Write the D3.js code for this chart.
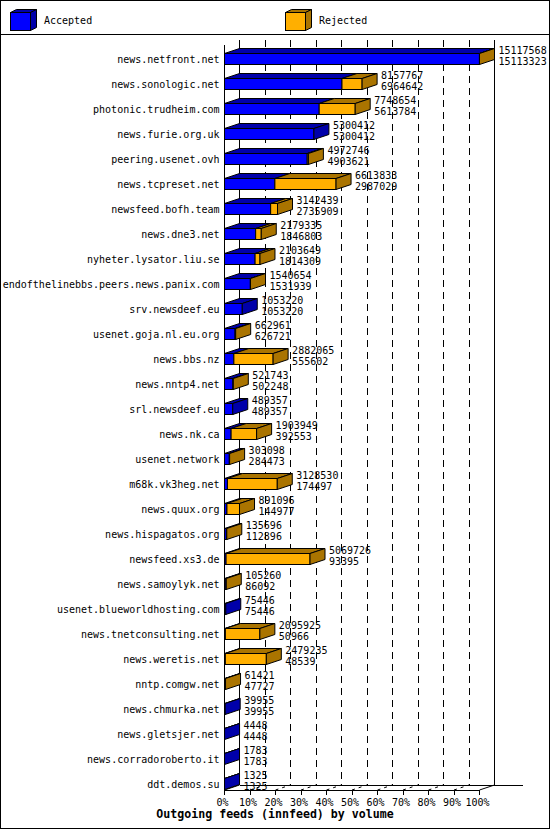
<!DOCTYPE html>
<html lang="en">
<head>
  <meta charset="UTF-8">
  <title>Outgoing feeds (innfeed) by volume</title>
  <script src="https://cdnjs.cloudflare.com/ajax/libs/d3/7.8.5/d3.min.js"></script>
  <style>
    body { margin: 0; background: #fff; }
    svg text { font-family: "DejaVu Sans Mono", monospace; font-size: 10px; fill: #000; }
    svg .title { font-weight: bold; font-size: 11.6px; }
    .crisp { shape-rendering: crispEdges; }
  </style>
</head>
<body>
<div id="chart"></div>
<script>
// feed names, top to bottom
var feeds = [
  "news.netfront.net", "news.sonologic.net", "photonic.trudheim.com", "news.furie.org.uk",
  "peering.usenet.ovh", "news.tcpreset.net", "newsfeed.bofh.team", "news.dne3.net",
  "nyheter.lysator.liu.se", "endofthelinebbs.peers.news.panix.com", "srv.newsdeef.eu",
  "usenet.goja.nl.eu.org", "news.bbs.nz", "news.nntp4.net", "srl.newsdeef.eu", "news.nk.ca",
  "usenet.network", "m68k.vk3heg.net", "news.quux.org", "news.hispagatos.org",
  "newsfeed.xs3.de", "news.samoylyk.net", "usenet.blueworldhosting.com",
  "news.tnetconsulting.net", "news.weretis.net", "nntp.comgw.net", "news.chmurka.net",
  "news.gletsjer.net", "news.corradoroberto.it", "ddt.demos.su"
];

// offered (top number) and accepted (bottom number) per feed
var offered = [
  15117568, 8157767, 7748654, 5300412, 4972746, 6613833, 3142439, 2179335,
  2103649, 1540654, 1053220, 662961, 2882065, 521743, 489357, 1903949,
  303098, 3128530, 891096, 135696, 5069726, 105260, 75446, 2095925,
  2479235, 61421, 39955, 4448, 1783, 1325
];
var accepted = [
  15113323, 6964642, 5613784, 5300412, 4903621, 2987029, 2735909, 1846803,
  1814309, 1531939, 1053220, 626721, 555602, 502248, 489357, 392553,
  284473, 174497, 144977, 112896, 93395, 86092, 75446, 50966,
  48539, 47727, 39955, 4448, 1783, 1325
];

var seriesNames = ["Accepted", "Rejected"];
var seriesColors = ["#0000ff", "#ffaf00"];
var seriesDark = ["#0000aa", "#aa7400"];

var tickValues = [0, 10, 20, 30, 40, 50, 60, 70, 80, 90, 100];
var tickLabels = ["0%", "10%", "20%", "30%", "40%", "50%", "60%", "70%", "80%", "90%", "100%"];
var chartTitle = "Outgoing feeds (innfeed) by volume";

var svgWidth = 550;
var svgHeight = 830;

// 3D offset of the back wall
var depth = { x: 15, y: 5 };
var frontBottom = 790;
var backTop = 40;
var barHeight = 11;

var svg = d3.select("#chart")
  .append("svg")
  .attr("width", svgWidth)
  .attr("height", svgHeight);

var maxValue = d3.max(offered);

var xScale = d3.scaleLinear()
  .domain([0, 100])
  .range([224.5, 479.5]);

var yScale = d3.scaleBand()
  .domain(feeds)
  .range([46.3, 796.3]);

function pct(v) { return v / maxValue * 100; }

function poly(pts) {
  return pts.map(function(p) { return p[0] + "," + p[1]; }).join(" ");
}

// outer frame and legend separator
svg.append("rect")
  .attr("class", "crisp")
  .attr("x", 0.5).attr("y", 0.5)
  .attr("width", svgWidth - 1).attr("height", svgHeight - 2)
  .attr("fill", "#fff").attr("stroke", "#000");

svg.append("line")
  .attr("class", "crisp")
  .attr("x1", 0).attr("x2", svgWidth)
  .attr("y1", 34.5).attr("y2", 34.5)
  .attr("stroke", "#000");

// legend
var legend = svg.selectAll(".legend")
  .data(seriesNames)
  .enter()
  .append("g")
  .attr("class", "legend")
  .attr("transform", (d, i) => `translate(${10.5 + i * 275}, 12.5)`);

legend.append("polygon")
  .attr("points", poly([[0, 0], [20, 0], [26, -3], [6, -3]]))
  .attr("fill", (d, i) => seriesDark[i]).attr("stroke", "#000");
legend.append("polygon")
  .attr("points", poly([[20, 0], [26, -3], [26, 15], [20, 18]]))
  .attr("fill", (d, i) => seriesDark[i]).attr("stroke", "#000");
legend.append("rect")
  .attr("width", 20).attr("height", 18)
  .attr("fill", (d, i) => seriesColors[i]).attr("stroke", "#000");
legend.append("text")
  .attr("x", 33.5 + 0)
  .attr("y", 11.5)
  .text(d => d);

// back wall: dashed grid lines
var gridTicks = tickValues.slice(1, -1);

svg.selectAll(".grid")
  .data(gridTicks)
  .enter()
  .append("line")
  .attr("class", "grid crisp")
  .attr("x1", d => xScale(d) + depth.x).attr("x2", d => xScale(d) + depth.x)
  .attr("y1", backTop).attr("y2", frontBottom - depth.y)
  .attr("stroke", "#000")
  .attr("stroke-dasharray", "7,5");

// floor: dashed lines
svg.selectAll(".floor")
  .data(gridTicks)
  .enter()
  .append("line")
  .attr("class", "floor")
  .attr("x1", d => xScale(d)).attr("y1", frontBottom)
  .attr("x2", d => xScale(d) + depth.x).attr("y2", frontBottom - depth.y)
  .attr("stroke", "#000")
  .attr("stroke-dasharray", "3,4");

// back wall edges
var backG = svg.append("g").attr("class", "crisp").attr("stroke", "#000");
backG.append("line")
  .attr("x1", xScale(0) + depth.x).attr("x2", xScale(0) + depth.x)
  .attr("y1", backTop).attr("y2", frontBottom - depth.y);
backG.append("line")
  .attr("x1", xScale(100) + depth.x).attr("x2", xScale(100) + depth.x)
  .attr("y1", backTop).attr("y2", frontBottom - depth.y);
backG.append("line")
  .attr("x1", xScale(0) + depth.x).attr("x2", 523)
  .attr("y1", frontBottom - depth.y).attr("y2", frontBottom - depth.y);

svg.append("line")
  .attr("x1", xScale(0)).attr("y1", frontBottom)
  .attr("x2", xScale(0) + depth.x).attr("y2", frontBottom - depth.y)
  .attr("stroke", "#000");
svg.append("line")
  .attr("x1", xScale(100)).attr("y1", frontBottom)
  .attr("x2", xScale(100) + depth.x).attr("y2", frontBottom - depth.y)
  .attr("stroke", "#000");

// bars: accepted then rejected, stacked
var rows = feeds.map(function(name, i) {
  var segs = [
    { s: 0, from: 0, to: pct(accepted[i]) },
    { s: 1, from: pct(accepted[i]), to: pct(offered[i]) }
  ].filter(d => d.to > d.from);
  segs[segs.length - 1].last = true;
  return { name: name, segs: segs, offered: offered[i], accepted: accepted[i] };
});

var rowG = svg.selectAll(".row")
  .data(rows)
  .enter()
  .append("g")
  .attr("class", "row")
  .attr("transform", d => {
    var yc = yScale(d.name) + yScale.bandwidth() / 2;
    return `translate(0, ${Math.round(yc - barHeight / 2) + 0.5})`;
  });

rowG.each(function(d) {
  var g = d3.select(this);
  d.segs.forEach(function(seg) {
    var x0 = xScale(seg.from), x1 = xScale(seg.to);
    g.append("rect")
      .attr("x", x0).attr("y", 0)
      .attr("width", x1 - x0).attr("height", barHeight)
      .attr("fill", seriesColors[seg.s]).attr("stroke", "#000");
    g.append("polygon")
      .attr("points", poly([[x0, 0], [x1, 0], [x1 + depth.x, -depth.y], [x0 + depth.x, -depth.y]]))
      .attr("fill", seriesDark[seg.s]).attr("stroke", "#000");
    if (seg.last) {
      g.append("polygon")
        .attr("points", poly([[x1, 0], [x1 + depth.x, -depth.y],
          [x1 + depth.x, barHeight - depth.y], [x1, barHeight]]))
        .attr("fill", seriesDark[seg.s]).attr("stroke", "#000");
    }
  });
});

// value labels
rowG.append("text")
  .attr("x", d => xScale(pct(d.offered)) + depth.x + 4)
  .attr("y", 0)
  .text(d => d.offered);
rowG.append("text")
  .attr("x", d => xScale(pct(d.accepted > 0 ? d.offered : 0)) + depth.x + 4)
  .attr("y", barHeight)
  .text(d => d.accepted);

// feed names
svg.selectAll(".feed")
  .data(feeds)
  .enter()
  .append("text")
  .attr("class", "feed")
  .attr("text-anchor", "end")
  .attr("x", 219.5)
  .attr("y", d => yScale(d) + yScale.bandwidth() / 2 + 4.5)
  .text(d => d);

// front axes
var axisG = svg.append("g").attr("class", "crisp").attr("stroke", "#000");
axisG.append("line")
  .attr("x1", xScale(0)).attr("x2", xScale(0))
  .attr("y1", 45).attr("y2", frontBottom);
axisG.append("line")
  .attr("x1", xScale(0)).attr("x2", xScale(100))
  .attr("y1", frontBottom).attr("y2", frontBottom);
axisG.selectAll(".tick")
  .data(tickValues)
  .enter()
  .append("line")
  .attr("x1", d => xScale(d)).attr("x2", d => xScale(d))
  .attr("y1", frontBottom).attr("y2", frontBottom + 5);

svg.selectAll(".tickLabel")
  .data(tickValues)
  .enter()
  .append("text")
  .attr("class", "tickLabel")
  .attr("text-anchor", "middle")
  .attr("x", d => xScale(d) - 2)
  .attr("y", 806)
  .text((d, i) => tickLabels[i]);

svg.append("text")
  .attr("class", "title")
  .attr("text-anchor", "middle")
  .attr("x", svgWidth / 2)
  .attr("y", 818)
  .text(chartTitle);
</script>
</body>
</html>
